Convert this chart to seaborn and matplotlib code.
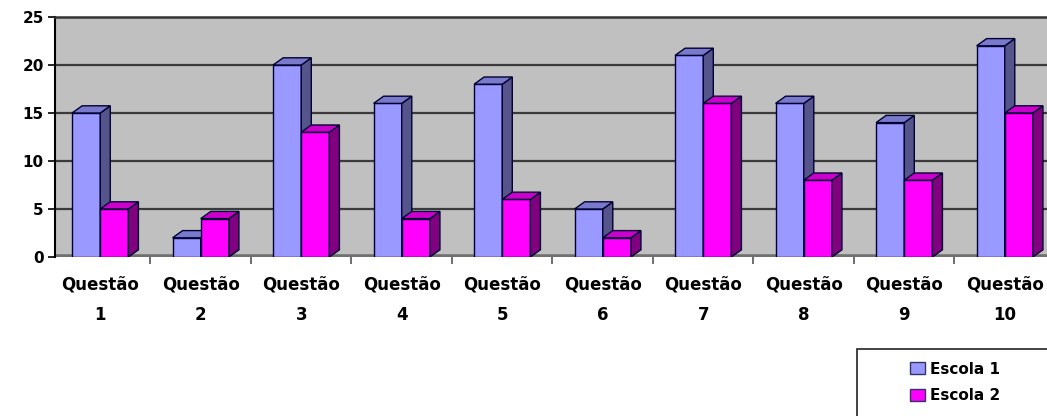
import matplotlib
matplotlib.use("Agg")
import matplotlib.pyplot as plt
import seaborn as sns
import pandas as pd
from matplotlib.patches import Polygon, Rectangle, Patch
from matplotlib.ticker import FixedLocator

# ---- data ----
categories = [f"Questão\n{i}" for i in range(1, 11)]
series = ["Escola 1", "Escola 2"]
escola1 = [15, 2, 20, 16, 18, 5, 21, 16, 14, 22]
escola2 = [5, 4, 13, 4, 6, 2, 16, 8, 8, 15]
yticks = [0, 5, 10, 15, 20, 25]

front_colors = {"Escola 1": "#9999FF", "Escola 2": "#FF00FF"}
side_colors = {"Escola 1": "#55558C", "Escola 2": "#800080"}
top_colors = {"Escola 1": "#7A7ACC", "Escola 2": "#CC00CC"}

df = pd.DataFrame({
    "questao": categories * 2,
    "valor": escola1 + escola2,
    "escola": [series[0]] * len(escola1) + [series[1]] * len(escola2),
})

sns.set_theme(style="white")
plt.rcParams["font.family"] = ["DejaVu Sans"]
plt.rcParams["text.color"] = "black"
plt.rcParams["xtick.color"] = "black"
plt.rcParams["ytick.color"] = "black"

W, H = 1047, 416
fig = plt.figure(figsize=(W / 100, H / 100), dpi=100)
fig.patch.set_facecolor("white")
ax = fig.add_axes([55 / W, (H - 257) / H, 1000 / W, 240 / H])
ax.set_facecolor("#C0C0C0")

sns.barplot(data=df, x="questao", y="valor", hue="escola", hue_order=series,
            palette=front_colors, width=0.56, dodge=True, saturation=1,
            edgecolor="#000033", linewidth=1.0, legend=False, ax=ax, zorder=3)

ax.set_ylim(0, 25)
ax.set_xlim(-0.45, 9.5)

# 3D depth
dx = 0.10
dy = 0.75
bars = list(ax.patches)
n = len(categories)
for i, bar in enumerate(bars):
    s = series[i // n]
    z = 3 + 2 * (i // n)
    bar.set_zorder(z)
    x0 = bar.get_x()
    w = bar.get_width()
    h = bar.get_height()
    side = Polygon([(x0 + w, 0), (x0 + w + dx, dy), (x0 + w + dx, h + dy), (x0 + w, h)],
                   closed=True, facecolor=side_colors[s], edgecolor="#000033",
                   linewidth=1.0, zorder=z)
    top = Polygon([(x0, h), (x0 + dx, h + dy), (x0 + w + dx, h + dy), (x0 + w, h)],
                  closed=True, facecolor=top_colors[s], edgecolor="#000033",
                  linewidth=1.0, zorder=z)
    ax.add_patch(side)
    ax.add_patch(top)

# gridlines and floor
for v in yticks[1:-1]:
    ax.axhline(v, color="#3a3a3a", lw=1.6, zorder=1)
ax.axhline(0, color="#707070", lw=4, zorder=1)

for sp in ["right", "bottom"]:
    ax.spines[sp].set_visible(False)
ax.spines["top"].set_color("#333333")
ax.spines["top"].set_linewidth(1.8)
ax.spines["left"].set_color("#000000")
ax.spines["left"].set_linewidth(1.5)

ax.set_yticks(yticks)
ax.set_yticklabels([str(v) for v in yticks], fontsize=11, fontweight="heavy")
ax.tick_params(axis="y", length=5, width=1.2, direction="out", left=True, pad=3)

ax.set_xticks(range(n))
ax.set_xticklabels(categories, fontsize=12, fontweight="heavy", linespacing=1.9)
ax.tick_params(axis="x", length=0, pad=13)
ax.xaxis.set_minor_locator(FixedLocator([k + 0.5 for k in range(n)]))
ax.tick_params(axis="x", which="minor", length=5, width=1.2, direction="out", bottom=True, color="#555555")
ax.set_xlabel("")
ax.set_ylabel("")

# legend
fig.patches.append(Rectangle((857 / W, -0.1), 0.3, (H - 349) / H + 0.1, transform=fig.transFigure,
                             facecolor="white", edgecolor="#222222", lw=1.2, zorder=1))
handles = [Patch(facecolor=front_colors[s], edgecolor="#333366", label=s) for s in series]
leg = fig.legend(handles=handles, loc="upper left", bbox_to_anchor=(902 / W, (H - 354) / H),
                 frameon=False, prop={"weight": "heavy", "size": 11}, handlelength=1.0,
                 handleheight=0.85, handletextpad=0.3, labelspacing=0.75, borderpad=0)

fig.savefig("out.png", dpi=100)
